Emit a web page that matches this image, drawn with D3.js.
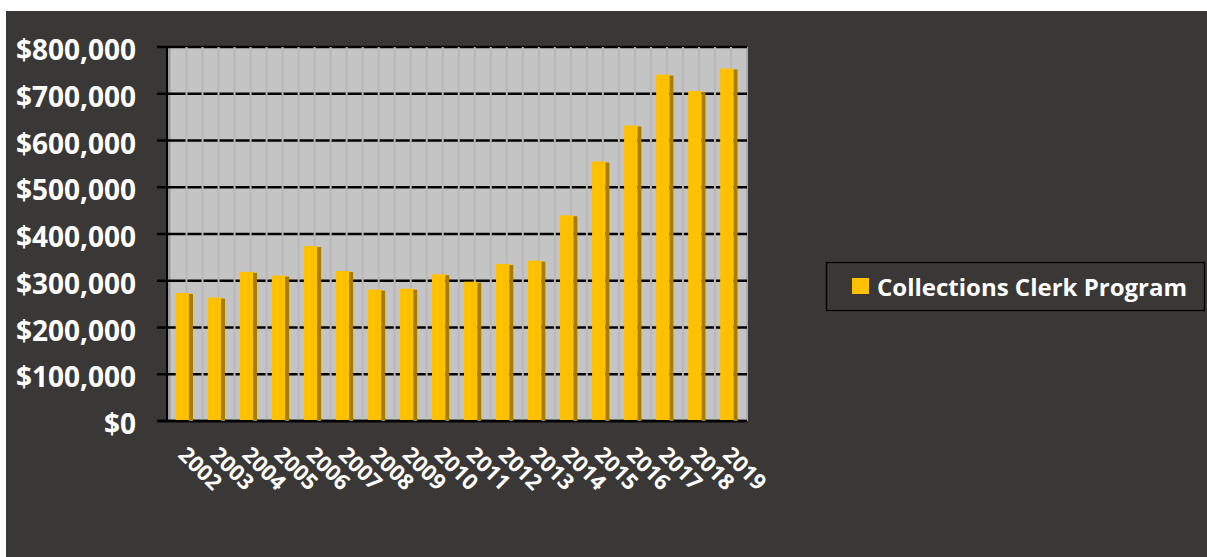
<!DOCTYPE html>
<html lang="en">
<head>
    <meta charset="UTF-8">
    <title>Collections Clerk Program</title>
    <script src="https://cdn.jsdelivr.net/npm/d3@7"></script>
    <style>
        body { margin: 0; background: #fff; }
        text { font-family: "Open Sans", sans-serif; font-weight: 700; fill: #fff; }
    </style>
</head>
<body>
<script type="application/javascript">

    let w = 1207, h = 557;

    let years = ["2002", "2003", "2004", "2005", "2006", "2007", "2008", "2009", "2010",
        "2011", "2012", "2013", "2014", "2015", "2016", "2017", "2018", "2019"];
    let amounts = [274000, 264000, 319000, 311000, 374000, 321000, 281000, 283000, 314000,
        298000, 336000, 343000, 440000, 555000, 632000, 741000, 706000, 754000];
    let yTicks = [0, 100000, 200000, 300000, 400000, 500000, 600000, 700000, 800000];
    let seriesName = "Collections Clerk Program";

    let svg = d3.select("body")
        .append("svg")
        .attr("width", w)
        .attr("height", h);

    // dark chart background
    svg.append("rect")
        .attr("x", 6).attr("y", 11)
        .attr("width", w - 6).attr("height", h - 11)
        .attr("fill", "#3a3836");

    //Set up scales
    let xScale = d3.scaleBand()
        .domain(years)
        .range([170.5, 747]);

    let yScale = d3.scaleLinear()
        .domain([0, 800000])
        .range([421, 47]);

    // plot wall
    svg.append("rect")
        .attr("x", 167).attr("y", 47)
        .attr("width", 581).attr("height", 374)
        .attr("fill", "#c4c4c4");
    svg.append("rect")
        .attr("x", 167).attr("y", 47)
        .attr("width", 3.5).attr("height", 374)
        .attr("fill", "#9c9c9c");
    svg.append("line")
        .attr("x1", 747).attr("x2", 747)
        .attr("y1", 47).attr("y2", 421)
        .attr("stroke", "#a2a2a2").attr("stroke-width", 1.5);

    // horizontal gridlines
    svg.selectAll("line.grid")
        .data(yTicks)
        .enter()
        .append("line")
        .attr("class", "grid")
        .attr("x1", 157).attr("x2", 747)
        .attr("y1", d => yScale(d)).attr("y2", d => yScale(d))
        .attr("stroke", "#000")
        .attr("stroke-width", 2.5);

    // vertical stripes on the wall
    let half = xScale.bandwidth() / 2;
    let stripes = d3.range(1, years.length * 2).map(k => 170.5 + k * half);
    svg.selectAll("line.stripe")
        .data(stripes)
        .enter()
        .append("line")
        .attr("class", "stripe")
        .attr("x1", d => d).attr("x2", d => d)
        .attr("y1", 47).attr("y2", 421)
        .attr("stroke", "#b8b8b8")
        .attr("stroke-width", 2);

    // axes lines
    svg.append("line")
        .attr("x1", 167).attr("x2", 167)
        .attr("y1", 46).attr("y2", 422)
        .attr("stroke", "#000").attr("stroke-width", 2);
    svg.append("line")
        .attr("x1", 157).attr("x2", 745)
        .attr("y1", 421).attr("y2", 421)
        .attr("stroke", "#000").attr("stroke-width", 2.5);

    // bars: front face + dark side
    let bars = svg.selectAll("g.bar")
        .data(amounts)
        .enter()
        .append("g")
        .attr("class", "bar");
    bars.append("rect")
        .attr("x", (d, i) => xScale(years[i]) + 18.5)
        .attr("y", d => yScale(d) + 1)
        .attr("width", 4)
        .attr("height", d => 420 - yScale(d))
        .attr("fill", "#a97e00");
    bars.append("rect")
        .attr("x", (d, i) => xScale(years[i]) + 5.2)
        .attr("y", d => yScale(d))
        .attr("width", 13.3)
        .attr("height", d => 420 - yScale(d))
        .attr("fill", "#ffc000");

    // y labels
    let fmt = d3.format("$,");
    svg.selectAll("text.ylab")
        .data(yTicks)
        .enter()
        .append("text")
        .attr("class", "ylab")
        .attr("x", 136)
        .attr("y", d => yScale(d) + 13)
        .attr("text-anchor", "end")
        .style("font-size", "28px")
        .text(d => fmt(d));

    // x labels, rotated
    svg.selectAll("text.xlab")
        .data(years)
        .enter()
        .append("text")
        .attr("class", "xlab")
        .attr("transform", d => "translate(" + (xScale(d) + half - 9.5) + ",456) rotate(45)")
        .style("font-size", "22px")
        .text(d => d);

    // legend
    let legend = svg.append("g");
    legend.append("rect")
        .attr("x", 826.5).attr("y", 262.5)
        .attr("width", 378).attr("height", 48)
        .attr("fill", "none")
        .attr("stroke", "#000")
        .attr("stroke-width", 1.3);
    legend.append("rect")
        .attr("x", 852).attr("y", 278)
        .attr("width", 17).attr("height", 16)
        .attr("fill", "#ffc000");
    legend.append("text")
        .attr("x", 877).attr("y", 295.5)
        .style("font-size", "24px")
        .text(seriesName);

</script>
</body>
</html>
